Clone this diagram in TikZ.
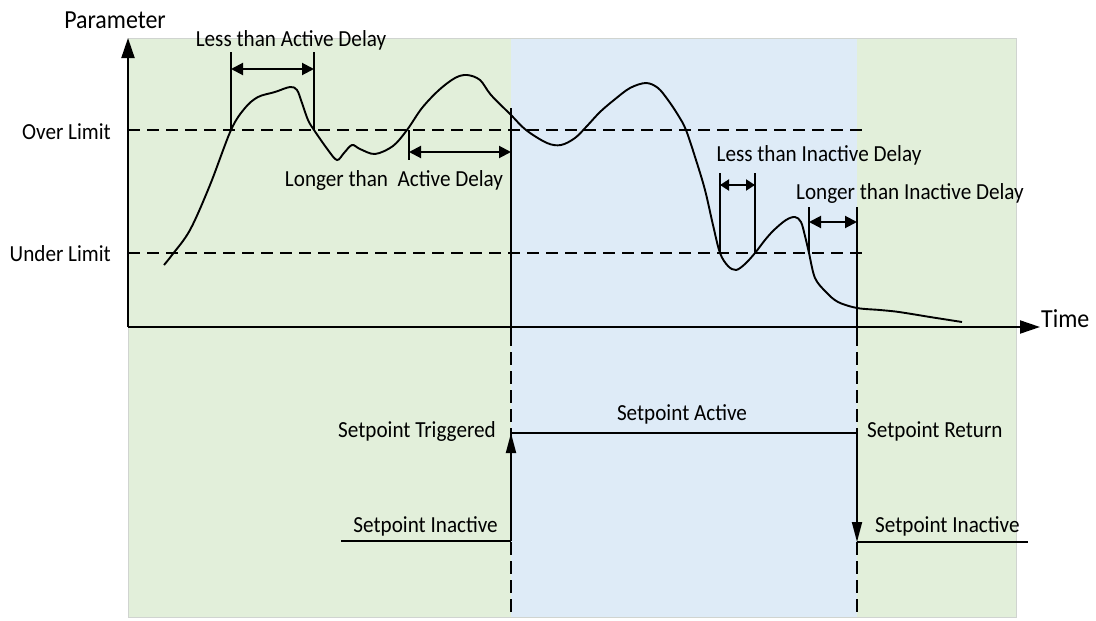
\documentclass[tikz,border=0pt]{standalone}
\usepackage{fontspec}
\usepackage{graphicx}
\setmainfont{Carlito}
\usetikzlibrary{arrows.meta}
\definecolor{bggreen}{HTML}{E2EFDA}
\definecolor{bgblue}{HTML}{DEEBF7}
\definecolor{bgedge}{HTML}{D0D4D0}
\newcommand{\sqz}[1]{\scalebox{0.92}[1]{#1}}
\begin{document}
\begin{tikzpicture}[x=1pt,y=-1pt,
  lbl/.style={inner sep=1pt,font=\fontsize{23}{27}\selectfont},
  biglbl/.style={inner sep=1pt,font=\fontsize{26}{30}\selectfont},
  axis/.style={line width=2pt,-{Triangle[length=20pt,width=13pt]}},
  limitline/.style={line width=1.4pt,dash pattern=on 12pt off 7pt},
  vdash/.style={line width=1.6pt,dash pattern=on 13pt off 6pt},
  bar/.style={line width=1.6pt},
  dly/.style={line width=2pt,{Triangle[length=12pt,width=12pt]}-{Triangle[length=12pt,width=12pt]}},
  sdly/.style={line width=2pt,{Triangle[length=9pt,width=11pt]}-{Triangle[length=9pt,width=11pt]}},
  sig/.style={line width=1.8pt},
  sigarr/.style={line width=1.8pt,-{Triangle[length=20pt,width=10pt]}},
  curve/.style={line width=1.9pt}]
\useasboundingbox (0,0) rectangle (1096,621);
% backgrounds
\fill[bggreen,draw=bgedge,line width=0.8pt] (128,38) rectangle (1016,617);
\fill[bgblue] (511,38) rectangle (857,617);
\draw[bgedge,line width=0.6pt] (511,38) -- (857,38);
% coordinates
\coordinate (O) at (128,327);
\coordinate (ytop) at (128,38);
\coordinate (xend) at (1040,327);
\coordinate (ovs) at (128,130);
\coordinate (ove) at (868,130);
\coordinate (uns) at (128,253);
\coordinate (une) at (868,253);
% limit lines
\draw[limitline] (ovs) -- (ove);
\draw[limitline] (uns) -- (une);
% curve
\draw[curve] plot[smooth,tension=0.55] coordinates {
(164,265) (172,255) (190,230) (210,185) (231,130) (245,108) (258,97) (275,92) (290,87) (297,90) (302,103) (308,120) (314,130)
(328,150) (337,160) (344,153) (352,145) (360,149) (375,154) (393,146) (407,130) (422,108) (439,90) (455,78) (467,75)
(480,80) (491,95) (511,115) (526,130) (547,143) (561,145) (575,138) (587,126) (600,112) (614,100) (630,88) (646,83)
(658,88) (668,100) (678,115) (686,130) (696,160) (705,190) (713,225) (720,253) (728,266) (736,270) (745,264) (755,253)
(765,240) (774,230) (786,220) (795,217) (801,222) (805,236) (809,253) (815,278) (826,292) (838,302) (857,308)
(880,310) (899,312) (930,317) (962,322)};
% axes
\draw[axis] (O) -- (ytop);
\draw[axis] (O) -- (xend);
% axis labels
\node[biglbl] (param) at (115,20) {\sqz{Parameter}};
\node[biglbl,anchor=west] (time) at (1040,319) {\sqz{Time}};
\node[lbl,anchor=east] (over) at (112,132) {\sqz{Over Limit}};
\node[lbl,anchor=east] (under) at (112,254) {\sqz{Under Limit}};
% active delay markers
\coordinate (a1t) at (231,52); \coordinate (a1b) at (231,130);
\coordinate (a2t) at (314,52); \coordinate (a2b) at (314,130);
\draw[bar] (a1t) -- (a1b);
\draw[bar] (a2t) -- (a2b);
\coordinate (a1m) at (231,69); \coordinate (a2m) at (314,69);
\draw[dly] (a1m) -- (a2m);
\node[lbl] (lad) at (291,40) {\sqz{Less than Active Delay}};
\coordinate (b1t) at (409,130); \coordinate (b1b) at (409,160);
\draw[bar] (b1t) -- (b1b);
\coordinate (b1m) at (409,152); \coordinate (b2m) at (511,152);
\draw[dly] (b1m) -- (b2m);
\node[lbl] (gad) at (394,180) {\sqz{Longer than\ \ Active Delay}};
% trigger line
\coordinate (trt) at (511,108); \coordinate (trb) at (511,333);
\draw[bar] (trt) -- (trb);
% inactive delay markers
\coordinate (c1t) at (720,173); \coordinate (c1b) at (720,253);
\coordinate (c2t) at (755,173); \coordinate (c2b) at (755,253);
\draw[bar] (c1t) -- (c1b);
\draw[bar] (c2t) -- (c2b);
\coordinate (c1m) at (720,185); \coordinate (c2m) at (755,185);
\draw[sdly] (c1m) -- (c2m);
\node[lbl] (lid) at (819,155) {\sqz{Less than Inactive Delay}};
\coordinate (d1t) at (809,207); \coordinate (d1b) at (809,253);
\coordinate (d2t) at (857,207); \coordinate (d2b) at (857,333);
\draw[bar] (d1t) -- (d1b);
\draw[bar] (d2t) -- (d2b);
\coordinate (d1m) at (809,222); \coordinate (d2m) at (857,222);
\draw[dly] (d1m) -- (d2m);
\node[lbl] (gid) at (910,193) {\sqz{Longer than Inactive Delay}};
% dashed verticals in lower part
\coordinate (l1t) at (511,333); \coordinate (l1b) at (511,617);
\coordinate (l2t) at (857,333); \coordinate (l2b) at (857,617);
\draw[vdash] (l1t) -- (l1b);
\draw[vdash] (l2t) -- (l2b);
% setpoint signal
\coordinate (s0) at (341,541);
\coordinate (s1) at (511,541);
\coordinate (s2) at (511,433);
\coordinate (s3) at (857,433);
\coordinate (s4) at (857,542);
\coordinate (s5) at (1028,542);
\draw[sig] (s0) -- (s1);
\draw[sigarr] (s1) -- (s2);
\draw[sig] (s2) -- (s3);
\draw[sigarr] (s3) -- (s4);
\draw[sig] (s4) -- (s5);
\node[lbl] (spa) at (682,414) {\sqz{Setpoint Active}};
\node[lbl,anchor=east] (spt) at (497,431) {\sqz{Setpoint Triggered}};
\node[lbl,anchor=west] (spr) at (866,431) {\sqz{Setpoint Return}};
\node[lbl,anchor=east] (spi1) at (499,526) {\sqz{Setpoint Inactive}};
\node[lbl,anchor=west] (spi2) at (874,526) {\sqz{Setpoint Inactive}};
\end{tikzpicture}
\end{document}
